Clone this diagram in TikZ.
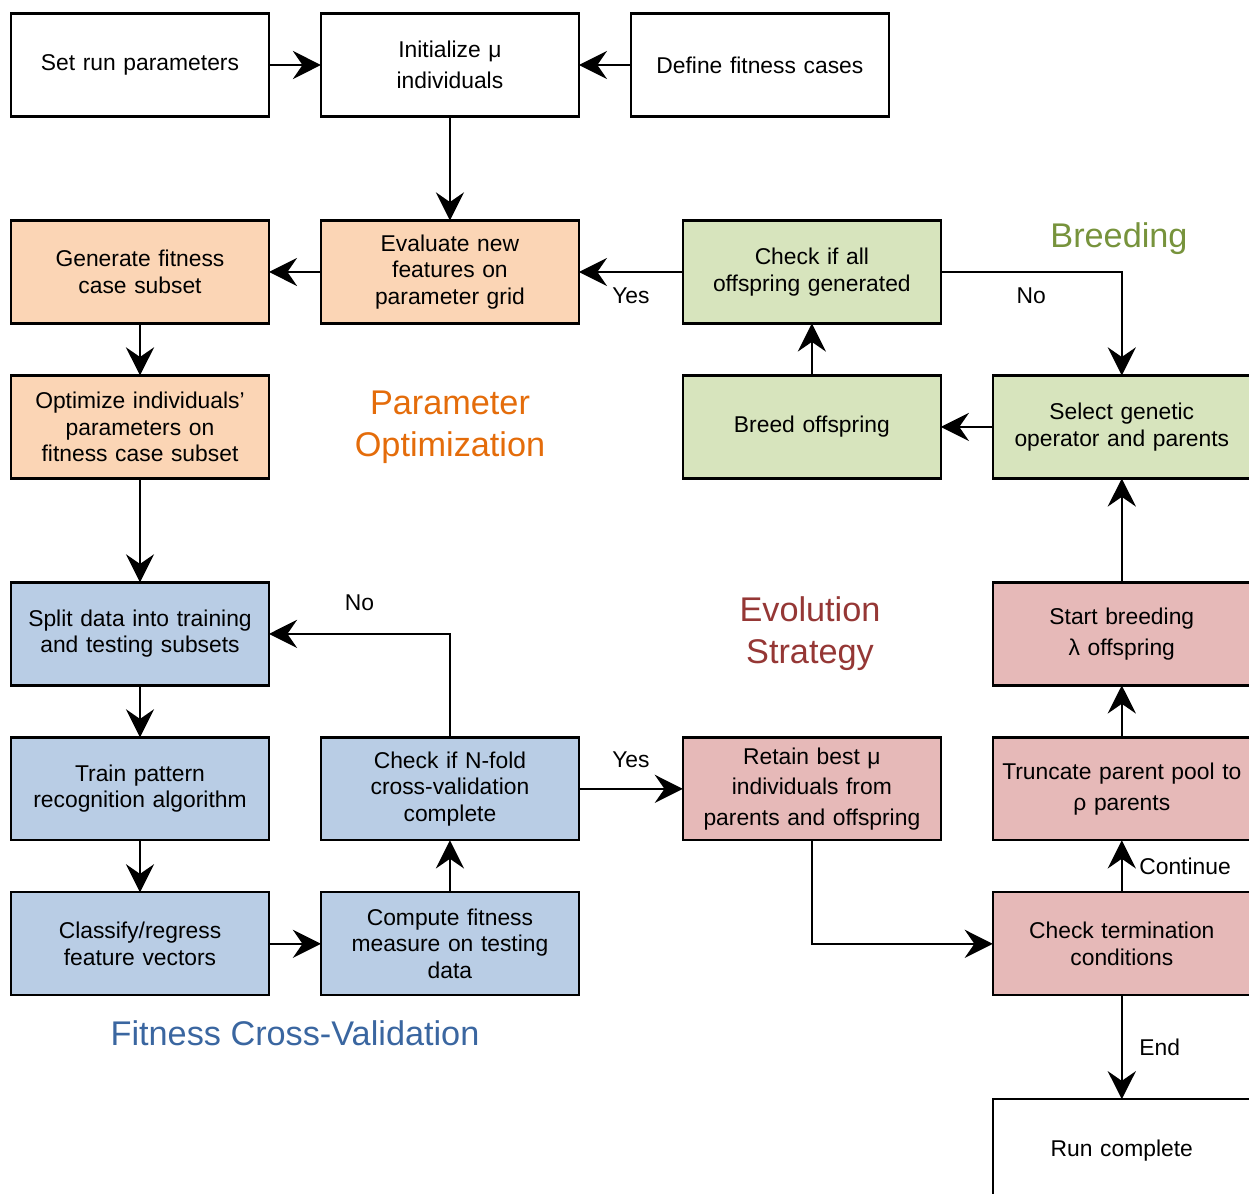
\documentclass[tikz,border=0pt]{standalone}
\usepackage{fontspec}
\setmainfont{Liberation Sans}
\usepackage{xcolor}
\usetikzlibrary{arrows.meta,positioning}
\definecolor{optfill}{HTML}{FBD5B5}
\definecolor{brdfill}{HTML}{D7E4BD}
\definecolor{xvalfill}{HTML}{B9CDE5}
\definecolor{evofill}{HTML}{E6B9B8}
\definecolor{optcol}{HTML}{E46C0A}
\definecolor{brdcol}{HTML}{77933C}
\definecolor{xvalcol}{HTML}{3A66A0}
\definecolor{evocol}{HTML}{953735}

\begin{document}
\begin{tikzpicture}[
  x=0.02cm, y=-0.02cm,
  box/.style={draw=black, line width=1.3pt, minimum width=5.16cm,
              minimum height=2.06cm, text width=5.0cm, align=center,
              inner sep=1pt, outer sep=0pt, font=\fontsize{13}{15}\selectfont},
  greek/.style={font=\fontsize{13}{17.5}\selectfont},
  ini/.style={box, fill=white},
  opt/.style={box, fill=optfill},
  brd/.style={box, fill=brdfill},
  xval/.style={box, fill=xvalfill},
  evo/.style={box, fill=evofill},
  arr/.style={-{Stealth[length=16pt, width=16pt, inset=5.5pt]}, line width=1.3pt},
  lbl/.style={font=\fontsize{13}{15}\selectfont},
  title/.style={font=\fontsize{19.5}{24}\selectfont, align=center},
  node distance=1.04cm and 1.04cm,
]
  \useasboundingbox (0,0) rectangle (1249,1194);

  % start
  \node[ini] (setrun) at (140,65) {Set run parameters};
  \node[ini, greek, right=of setrun] (init) {Initialize μ\\individuals};
  \node[ini, right=of init] (define) {Define fitness cases};

  % parameter optimization
  \node[opt, below=2.08cm of init] (eval) {Evaluate new\\features on\\parameter grid};
  \node[opt, left=of eval] (gen) {Generate fitness\\case subset};
  \node[opt, below=of gen] (optim) {Optimize individuals'\\parameters on\\fitness case subset};

  % breeding
  \node[brd, right=2.08cm of eval] (checkall) {Check if all\\offspring generated};
  \node[brd, below=of checkall] (breed) {Breed offspring};
  \node[brd, right=of breed] (select) {Select genetic\\operator and parents};

  % fitness cross-validation
  \node[xval, below=2.08cm of optim] (split) {Split data into training\\and testing subsets};
  \node[xval, below=of split] (train) {Train pattern\\recognition algorithm};
  \node[xval, below=of train] (classify) {Classify/regress\\feature vectors};
  \node[xval, right=of classify] (compute) {Compute fitness\\measure on testing\\data};
  \node[xval, right=of train] (checkn) {Check if N-fold\\cross-validation\\complete};

  % evolution strategy
  \node[evo, greek, right=2.08cm of checkn] (retain) {Retain best μ\\individuals from\\parents and offspring};
  \node[evo, greek, below=2.08cm of select] (start) {Start breeding\\λ offspring};
  \node[evo, greek, below=of start] (truncate) {Truncate parent pool to\\ρ parents};
  \node[evo, below=of truncate] (checkterm) {Check termination\\conditions};
  \node[ini, below=2.08cm of checkterm] (run) {Run complete};

  % group titles
  \node[title, text=brdcol] (brdtitle) at (1119,239) {Breeding};
  \node[title, text=optcol] (opttitle) at (450,427) {Parameter\\Optimization};
  \node[title, text=evocol] (evotitle) at (810,634) {Evolution\\Strategy};
  \node[title, text=xvalcol] (xvaltitle) at (295,1033) {Fitness Cross-Validation};

  \draw[arr] (setrun) -- (init);
  \draw[arr] (define) -- (init);
  \draw[arr] (init) -- (eval);
  \draw[arr] (checkall) -- node[lbl, below=5pt] {Yes} (eval);
  \draw[arr] (eval) -- (gen);
  \draw[arr] (gen) -- (optim);
  \draw[arr] (optim) -- (split);
  \draw[arr] (split) -- (train);
  \draw[arr] (train) -- (classify);
  \draw[arr] (classify) -- (compute);
  \draw[arr] (compute) -- (checkn);
  \draw[arr] (checkn.north) |- node[lbl, pos=0.75, above=9pt] {No} (split.east);
  \draw[arr] (checkn) -- node[lbl, above=8pt] {Yes} (retain);
  \draw[arr] (retain.south) |- (checkterm.west);
  \draw[arr] (checkterm) -- node[lbl, right=6pt] {Continue} (truncate);
  \draw[arr] (truncate) -- (start);
  \draw[arr] (start) -- (select);
  \draw[arr] (select) -- (breed);
  \draw[arr] (breed) -- (checkall);
  \draw[arr] (checkall.east) -| node[lbl, pos=0.25, below=5pt] {No} (select.north);
  \draw[arr] (checkterm) -- node[lbl, right=6pt] {End} (run);
\end{tikzpicture}
\end{document}
